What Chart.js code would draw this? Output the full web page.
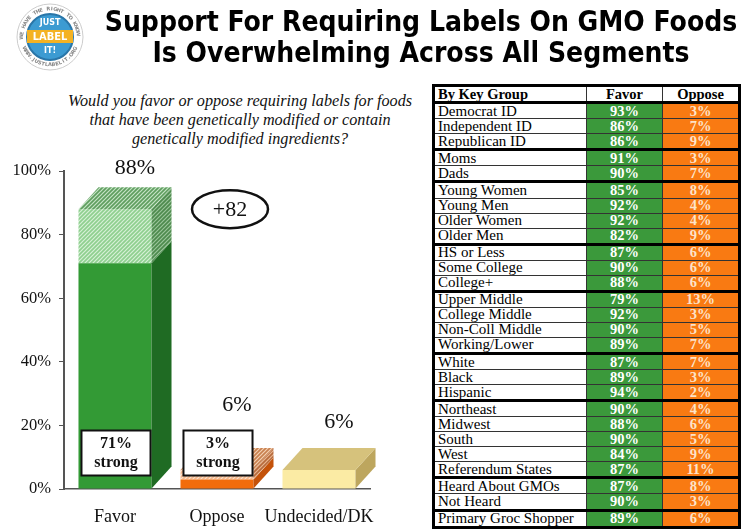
<!DOCTYPE html>
<html>
<head>
<meta charset="utf-8">
<script src="https://cdn.jsdelivr.net/npm/chart.js@4.4.0/dist/chart.umd.min.js"></script>
<style>
  body { margin: 0; width: 750px; height: 532px; background: #fff; position: relative; overflow: hidden; font-family: "Liberation Serif", serif; }
  #logo { position: absolute; left: 0; top: 0; }
  #title { position: absolute; left: 90px; top: 6px; width: 662px; text-align: center; font: bold 28px "DejaVu Sans Condensed", "DejaVu Sans", sans-serif; line-height: 31px; color: #000; }
  #question { position: absolute; left: 40px; top: 92px; width: 400px; text-align: center; font: italic 16.2px "Liberation Serif", serif; line-height: 19px; color: #111; }
  #chartBox { position: absolute; left: 0; top: 140px; width: 420px; height: 392px; }
  #groups { position: absolute; left: 432px; top: 84px; width: 309px; height: 445px; border-collapse: collapse; border: 3px solid #000; font-size: 15px; color: #000; }
  #groups td { padding: 0 0 0 3px; line-height: 13px; border: 1px solid #333; white-space: nowrap; }
  #groups td.num { text-align: center; font-weight: bold; padding: 0; font-size: 14.5px; }
  #groups td.fav { background: #3b993b; color: #fff; }
  #groups td.opp { background: #f97a12; color: #fde3c8; }
  #groups tr.head td { font-weight: bold; font-size: 14.5px; }
  #groups tr.brk td { border-top: 3px solid #000; }
</style>
</head>
<body>
<canvas id="logo" width="100" height="76"></canvas>
<div id="title">Support For Requiring Labels On GMO Foods<br>Is Overwhelming Across All Segments</div>
<div id="question">Would you favor or oppose requiring labels for foods<br>that have been genetically modified or contain<br>genetically modified ingredients?</div>
<div id="chartBox"><canvas id="my-chart"></canvas></div>
<table id="groups"></table>
<script>
// main bars
const categories = ['Favor', 'Oppose', 'Undecided/DK']
const strongValues = [71, 3, null]
const otherValues = [17, 3, 6]
const yTicks = [0, 20, 40, 60, 80, 100]

// table by key group
const groupNames = ['Democrat ID', 'Independent ID', 'Republican ID', 'Moms', 'Dads', 'Young Women', 'Young Men',
  'Older Women', 'Older Men', 'HS or Less', 'Some College', 'College+', 'Upper Middle', 'College Middle',
  'Non-Coll Middle', 'Working/Lower', 'White', 'Black', 'Hispanic', 'Northeast', 'Midwest', 'South', 'West',
  'Referendum States', 'Heard About GMOs', 'Not Heard', 'Primary Groc Shopper']
const groupFavor = [93, 86, 86, 91, 90, 85, 92, 92, 82, 87, 90, 88, 79, 92, 90, 89, 87, 89, 94, 90, 88, 90, 84, 87, 87, 90, 89]
const groupOppose = [3, 7, 9, 3, 7, 8, 4, 4, 9, 6, 6, 6, 13, 3, 5, 7, 7, 3, 2, 4, 6, 5, 9, 11, 8, 3, 6]
const groupBreaks = [0, 3, 5, 9, 12, 16, 19, 24, 26]

const totals = categories.map((c, i) => (strongValues[i] || 0) + otherValues[i])

// ---- table ----
const table = document.getElementById('groups')
let html = '<tr class="head"><td style="width:148px">By Key Group</td><td class="num" style="width:75px">Favor</td><td class="num">Oppose</td></tr>'
groupNames.forEach((name, i) => {
  const cls = groupBreaks.includes(i) ? ' class="brk"' : ''
  html += `<tr${cls}><td>${name}</td><td class="num fav">${groupFavor[i]}%</td><td class="num opp">${groupOppose[i]}%</td></tr>`
})
table.innerHTML = html

// ---- logo ----
const lg = document.getElementById('logo').getContext('2d')
lg.beginPath(); lg.arc(50, 37, 33, 0, Math.PI * 2); lg.fillStyle = '#fff'; lg.fill()
lg.strokeStyle = '#ccc'; lg.lineWidth = 1; lg.stroke()
lg.beginPath(); lg.arc(50, 37, 23, 0, Math.PI * 2); lg.fillStyle = '#3c9bd2'; lg.fill()
lg.lineWidth = 2; lg.strokeStyle = '#2a76a8'; lg.stroke()
lg.fillStyle = '#f4b223'; lg.fillRect(27, 30, 46, 13)
lg.fillStyle = '#fff'; lg.textAlign = 'center'; lg.textBaseline = 'middle'
lg.font = 'bold 8px "DejaVu Sans"'; lg.fillText('JUST', 50, 23)
lg.font = 'bold 11px "DejaVu Sans Condensed"'; lg.fillText('LABEL', 50, 37)
lg.font = 'bold 8px "DejaVu Sans"'; lg.fillText('IT!', 50, 51)
function arcText(str, r, start, step, up) {
  lg.font = 'bold 5px "DejaVu Sans"'; lg.fillStyle = '#888'
  for (let k = 0; k < str.length; k++) {
    const a = start + k * step * (up ? 1 : -1)
    lg.save(); lg.translate(50 + r * Math.cos(a), 37 + r * Math.sin(a))
    lg.rotate(up ? a + Math.PI / 2 : a - Math.PI / 2); lg.fillText(str[k], 0, 0); lg.restore()
  }
}
arcText('WE HAVE THE RIGHT TO KNOW', 28, Math.PI * 1.0, 0.04 * Math.PI, true)
arcText('WWW.JUSTLABELIT.ORG', 28, Math.PI * 0.86, 0.04 * Math.PI, false)

// ---- bar chart ----
function stripes(base, line) {
  const c = document.createElement('canvas'); c.width = 4; c.height = 4
  const g = c.getContext('2d')
  g.fillStyle = base; g.fillRect(0, 0, 4, 4)
  g.strokeStyle = line; g.lineWidth = 1.2
  g.beginPath()
  g.moveTo(-1, 5); g.lineTo(5, -1)
  g.moveTo(-1, 1); g.lineTo(1, -1)
  g.moveTo(3, 5); g.lineTo(5, 3)
  g.stroke()
  return g.createPattern(c, 'repeat')
}

function poly(ctx, pts, fill) {
  ctx.beginPath()
  pts.forEach((p, k) => k ? ctx.lineTo(p[0], p[1]) : ctx.moveTo(p[0], p[1]))
  ctx.closePath()
  ctx.fillStyle = fill
  ctx.fill()
}

const depth = {
  id: 'depth',
  afterDatasetsDraw(chart, args, opts) {
    const ctx = chart.ctx
    const dx = opts.dx, dy = opts.dy
    ctx.save()
    categories.forEach((cat, i) => {
      let top = null
      chart.data.datasets.forEach((ds, d) => {
        const el = chart.getDatasetMeta(d).data[i]
        if (ds.data[i] == null || !el) return
        const r = el.x + el.width / 2
        poly(ctx, [[r, el.y], [r + dx, el.y + dy], [r + dx, el.base + dy], [r, el.base]], ds.sideColor[i])
        top = { el, ds }
      })
      if (top) {
        const el = top.el, l = el.x - el.width / 2, r = el.x + el.width / 2
        poly(ctx, [[l, el.y], [l + dx, el.y + dy], [r + dx, el.y + dy], [r, el.y]], top.ds.topColor[i])
      }
    })
    ctx.restore()
  },
  afterDraw(chart, args, opts) {
    const ctx = chart.ctx
    const yS = chart.scales.y
    const meta0 = chart.getDatasetMeta(0)
    ctx.save()
    ctx.fillStyle = '#111'
    ctx.textAlign = 'center'
    ctx.textBaseline = 'middle'
    // totals above bars
    ctx.font = '22px "Liberation Serif"'
    totals.forEach((t, i) => {
      const el = chart.getDatasetMeta(1).data[i]
      ctx.fillText(t + '%', el.x + opts.dx, yS.getPixelForValue(t) - opts.lift[i])
    })
    // "strong" boxes
    strongValues.forEach((v, i) => {
      if (v == null) return
      const el = meta0.data[i]
      const l = el.x - el.width / 2 + 3, r = el.x + el.width / 2 - 1
      const b = el.base - 13, tp = el.base - 58
      ctx.fillStyle = '#fff'; ctx.fillRect(l, tp, r - l, b - tp)
      ctx.lineWidth = 2; ctx.strokeStyle = '#111'; ctx.strokeRect(l, tp, r - l, b - tp)
      ctx.fillStyle = '#111'; ctx.font = 'bold 16px "Liberation Serif"'
      ctx.fillText(v + '%', (l + r) / 2, el.base - 45)
      ctx.fillText('strong', (l + r) / 2, el.base - 26)
    })
    // margin ellipse
    const opp = meta0.data[1]
    const cx = opp.x + 13, cy = yS.getPixelForValue(totals[0])
    ctx.beginPath(); ctx.ellipse(cx, cy, 38, 19, 0, 0, Math.PI * 2)
    ctx.lineWidth = 2.5; ctx.strokeStyle = '#111'; ctx.stroke()
    ctx.font = '22px "Liberation Serif"'
    ctx.fillText('+' + (totals[0] - totals[1]), cx, cy + 1)
    ctx.restore()
  }
}

const ctx = document.getElementById('my-chart').getContext('2d')
const chart = new Chart(ctx, {
  type: 'bar',
  data: {
    labels: categories,
    datasets: [
      {
        label: 'Strong',
        data: strongValues,
        backgroundColor: ['#339a35', '#f26c0c', '#fbe9a0'],
        sideColor: ['#1f6b23', '#c4520a', '#bda65e'],
        topColor: ['#339a35', '#f26c0c', '#d6c27c']
      },
      {
        label: 'Somewhat',
        data: otherValues,
        backgroundColor: [stripes('#8fcf8f', '#d6f0d6'), stripes('#f3b78c', '#fbe1cc'), '#fbeba4'],
        sideColor: [stripes('#4d8a4d', '#9ac59a'), stripes('#b66a3c', '#e8b590'), '#bda65e'],
        topColor: [stripes('#5f9e5f', '#c5e3c5'), stripes('#c8804f', '#f3d0b4'), '#d6c27c']
      }
    ]
  },
  options: {
    responsive: true,
    maintainAspectRatio: false,
    animation: false,
    layout: { padding: { top: 31, right: 50, left: 0, bottom: 0 } },
    plugins: {
      legend: { display: false },
      tooltip: { enabled: false },
      depth: { dx: 20, dy: -22, lift: [41, 65, 48] }
    },
    datasets: { bar: { barPercentage: 0.716, categoryPercentage: 1 } },
    scales: {
      x: {
        stacked: true,
        grid: { display: false },
        border: { color: '#555', width: 1.5 },
        ticks: { color: '#111', font: { family: 'Liberation Serif', size: 18 }, padding: 9, maxRotation: 0, minRotation: 0, autoSkip: false },
        afterFit: s => { s.height = 43 }
      },
      y: {
        stacked: true,
        min: 0,
        max: 100,
        afterBuildTicks: s => { s.ticks = yTicks.map(v => ({ value: v })) },
        grid: { drawOnChartArea: false, color: '#555', tickLength: 5 },
        border: { color: '#555', width: 2 },
        ticks: { color: '#111', font: { family: 'Liberation Serif', size: 16.5 }, padding: 8, callback: v => v + '%' },
        afterFit: s => { s.width = 64 }
      }
    }
  },
  plugins: [depth]
})
</script>
</body>
</html>
